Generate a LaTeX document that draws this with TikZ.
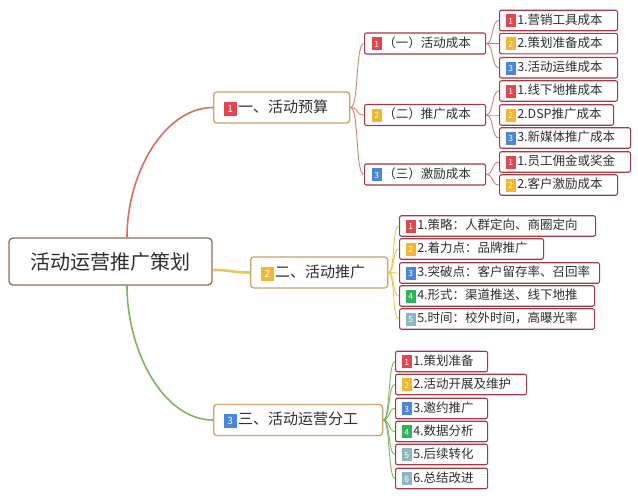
\documentclass[tikz,border=0pt]{standalone}
\usepackage{fontspec}
\setmainfont{Noto Sans CJK SC}
\definecolor{rootb}{HTML}{8A6E58}
\definecolor{lonb}{HTML}{C9A26C}
\definecolor{leafb}{HTML}{A33A45}
\definecolor{txt}{HTML}{2E2E2E}
\definecolor{cRed}{HTML}{E0464B}
\definecolor{cYel}{HTML}{F2B631}
\definecolor{cBlu}{HTML}{4A87DC}
\definecolor{cGrn}{HTML}{2DB35B}
\definecolor{cTea}{HTML}{8DB8BF}
\definecolor{lnRed}{HTML}{D66F5C}
\definecolor{lnRedT}{HTML}{CC8472}
\definecolor{lnYel}{HTML}{EFC552}
\definecolor{lnGrn}{HTML}{7DB660}
\newcommand{\bs}[2]{{\setlength{\fboxsep}{1pt}\colorbox{#1}{\rule[-2pt]{0pt}{11pt}\makebox[8.5pt]{\fontsize{8.5}{8.5}\selectfont\color{white}#2}}}\hspace{1.2pt}}
\newcommand{\bL}[2]{{\setlength{\fboxsep}{1pt}\colorbox{#1}{\rule[-2.5pt]{0pt}{12pt}\makebox[11pt]{\fontsize{10}{10}\selectfont\color{white}#2}}}\hspace{1.5pt}}
\tikzset{
  rootbox/.style={draw=rootb, line width=1.3pt, rounded corners=4pt, fill=white,
    minimum width=203pt, minimum height=47pt, font=\fontsize{20}{24}\selectfont, text=txt},
  lonebox/.style={draw=lonb, line width=1.3pt, rounded corners=3pt, fill=white, anchor=west,
    minimum height=31pt, inner xsep=10pt, inner ysep=0pt, font=\fontsize{15}{18}\selectfont,
    text=txt, align=left},
  ltwobox/.style={draw=leafb, line width=1.1pt, rounded corners=2pt, fill=white, anchor=west,
    minimum height=21pt, inner xsep=7pt, inner ysep=0pt, font=\fontsize{12.5}{15}\selectfont,
    text=txt, align=left},
  leafbox/.style={draw=leafb, line width=1.1pt, rounded corners=2pt, fill=white, anchor=west,
    minimum height=20.5pt, inner xsep=6pt, inner ysep=0pt, font=\fontsize{12.5}{15}\selectfont,
    text=txt, align=left},
  lnA/.style={draw=lnRedT, line width=0.9pt},
  lnB/.style={draw=lnYel, line width=0.9pt},
  lnC/.style={draw=lnGrn, line width=0.9pt},
}
\begin{document}
\begin{tikzpicture}[x=1pt,y=-1pt]
\useasboundingbox[fill=white] (0,0) rectangle (638,500);
% root
\node[rootbox] (root) at (110.5,261.5) {活动运营推广策划};
% level 1
\node[lonebox, text width=116pt] (A) at (213,107.5) {\bL{cRed}{1}一、活动预算};
\node[lonebox, text width=117pt] (B) at (250,272.5) {\bL{cYel}{2}二、活动推广};
\node[lonebox, text width=149pt] (C) at (213,420) {\bL{cBlu}{3}三、活动运营分工};
% level 2 under A
\node[ltwobox, text width=107pt] (A1) at (364,43.5) {\bs{cRed}{1}（一）活动成本};
\node[ltwobox, text width=107pt] (A2) at (364,115) {\bs{cYel}{2}（二）推广成本};
\node[ltwobox, text width=107pt] (A3) at (364,174.5) {\bs{cBlu}{3}（三）激励成本};
% level 3 under A
\node[leafbox, text width=106pt] (A1a) at (499,20.5) {\bs{cRed}{1}1.营销工具成本};
\node[leafbox, text width=106pt] (A1b) at (499,43.6) {\bs{cYel}{2}2.策划准备成本};
\node[leafbox, text width=106pt] (A1c) at (499,67.8) {\bs{cBlu}{3}3.活动运维成本};
\node[leafbox, text width=106pt] (A2a) at (499,91) {\bs{cRed}{1}1.线下地推成本};
\node[leafbox, text width=102pt] (A2b) at (499,115) {\bs{cYel}{2}2.DSP推广成本};
\node[leafbox, text width=119pt] (A2c) at (499,138) {\bs{cBlu}{3}3.新媒体推广成本};
\node[leafbox, text width=119pt] (A3a) at (499,162) {\bs{cRed}{1}1.员工佣金或奖金};
\node[leafbox, text width=106pt] (A3b) at (499,185) {\bs{cYel}{2}2.客户激励成本};
% level 2 under B
\node[leafbox, text width=184pt] (B1) at (399,226) {\bs{cRed}{1}1.策略：人群定向、商圈定向};
\node[leafbox, text width=132pt] (B2) at (399,249) {\bs{cYel}{2}2.着力点：品牌推广};
\node[leafbox, text width=188pt] (B3) at (399,273) {\bs{cBlu}{3}3.突破点：客户留存率、召回率};
\node[leafbox, text width=183pt] (B4) at (399,296) {\bs{cGrn}{4}4.形式：渠道推送、线下地推};
\node[leafbox, text width=183pt] (B5) at (399,319) {\bs{cTea}{5}5.时间：校外时间，高曝光率};
% level 2 under C
\node[leafbox, text width=80pt] (C1) at (395,361.5) {\bs{cRed}{1}1.策划准备};
\node[leafbox, text width=119pt] (C2) at (395,384.5) {\bs{cYel}{2}2.活动开展及维护};
\node[leafbox, text width=80pt] (C3) at (395,408.5) {\bs{cBlu}{3}3.邀约推广};
\node[leafbox, text width=80pt] (C4) at (395,431.5) {\bs{cGrn}{4}4.数据分析};
\node[leafbox, text width=80pt] (C5) at (395,454.5) {\bs{cTea}{5}5.后续转化};
\node[leafbox, text width=80pt] (C6) at (395,478.5) {\bs{cTea}{6}6.总结改进};
% main connectors
\draw[draw=lnRed, line width=1.6pt] ([xshift=16.5pt]root.north) .. controls +(0,-65) and +(-48,0) .. (A.west);
\draw[draw=lnYel, line width=2.6pt] ([yshift=-8.5pt]root.east) .. controls +(18,0) and +(-18,0) .. (B.west);
\draw[draw=lnGrn, line width=1.6pt] ([xshift=16.5pt]root.south) .. controls +(0,65) and +(-50,0) .. (C.west);
% A branches
\foreach \n in {A1,A2,A3}
  \draw[lnA] (A.east) .. controls +(9,0) and +(-9,0) .. (\n.west);
\foreach \n in {A1a,A1b,A1c}
  \draw[lnA] (A1.east) .. controls +(8,0) and +(-8,0) .. (\n.west);
\foreach \n in {A2a,A2b,A2c}
  \draw[lnA] (A2.east) .. controls +(8,0) and +(-8,0) .. (\n.west);
\foreach \n in {A3a,A3b}
  \draw[lnA] (A3.east) .. controls +(8,0) and +(-8,0) .. (\n.west);
% B branches
\foreach \n in {B1,B2,B3,B4,B5}
  \draw[lnB] (B.east) .. controls +(7,0) and +(-7,0) .. (\n.west);
% C branches
\foreach \n in {C1,C2,C3,C4,C5,C6}
  \draw[lnC] (C.east) .. controls +(7,0) and +(-7,0) .. (\n.west);
\end{tikzpicture}
\end{document}
